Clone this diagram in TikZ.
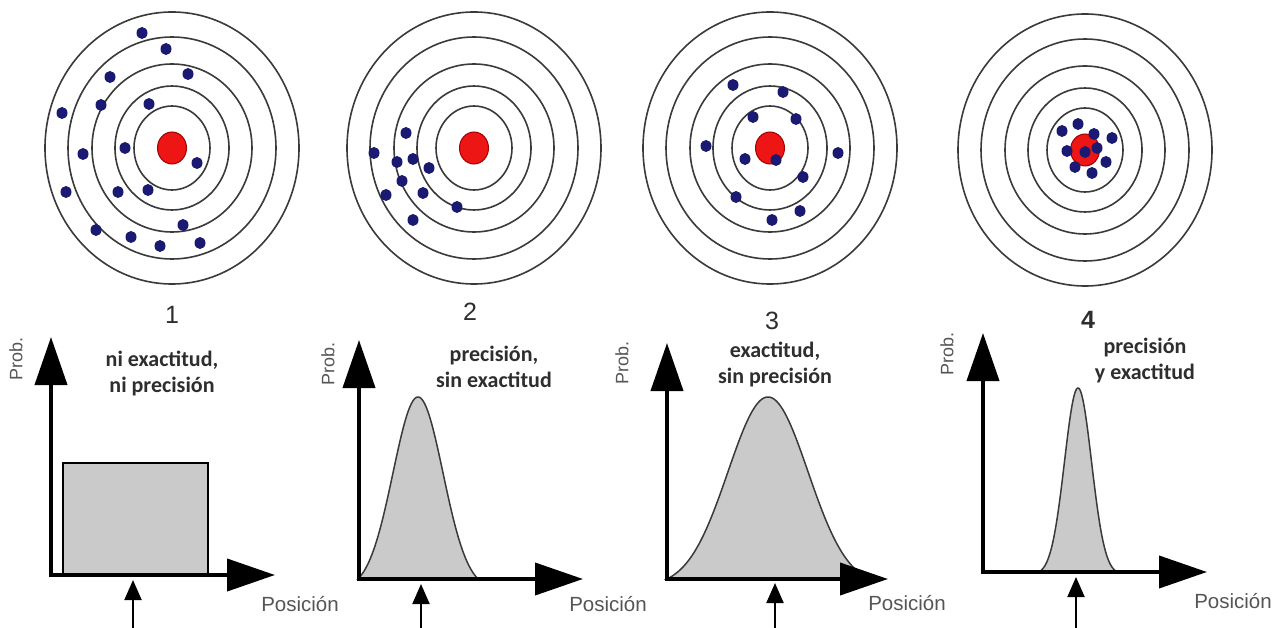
\documentclass[tikz,border=0pt]{standalone}
\usepackage{fontspec}
\setmainfont{Liberation Sans}
\newfontfamily\lab{Carlito}
\usetikzlibrary{arrows.meta}
\definecolor{ringc}{HTML}{3A3A3A}
\definecolor{dotc}{HTML}{1A1A72}
\definecolor{redc}{HTML}{EE1515}
\definecolor{rededge}{HTML}{A00000}
\definecolor{fillg}{HTML}{CACACA}
\definecolor{txt}{HTML}{2E2E2E}
\definecolor{postxt}{HTML}{555555}
\tikzset{
  ringline/.style={draw=ringc, line width=1.6pt},
  dotmark/.style={fill=dotc},
  bull/.style={fill=redc, draw=rededge, line width=1pt},
  axisarrow/.style={line width=4pt, line cap=rect, -{Triangle[length=48pt,width=32pt]}},
  markarrow/.style={line width=2pt, -{Triangle[length=20pt,width=17pt]}},
  curve/.style={fill=fillg, draw=ringc, line width=1.5pt},
  numlabel/.style={font=\fontsize{25}{28}\selectfont, text=txt},
  desc/.style={font=\lab\bfseries\fontsize{22}{26}\selectfont, text=txt, align=center},
  poslabel/.style={font=\fontsize{20.5}{24}\selectfont, text=postxt},
  problabel/.style={font=\fontsize{18}{21}\selectfont, text=postxt, rotate=90},
}
\newcommand\drawtarget[1]{%
  \foreach \rx/\ry in {127/136,104/111,80/84,57/62,38/42}
    \draw[ringline] (#1) ellipse [x radius=\rx, y radius=\ry];
  \draw[bull] (#1) ellipse [x radius=14.5, y radius=16];
}
\newcommand\bell[6]{%
  \draw[curve] plot[domain=#1:#2, samples=120]
    (\x, {#6 - #5*(exp(0-(\x-#3)*(\x-#3)/(2*#4*#4)) - exp(0-(#2-#3)*(#2-#3)/(2*#4*#4)))/(1-exp(0-(#2-#3)*(#2-#3)/(2*#4*#4)))}) -- cycle;
}
\begin{document}
\begin{tikzpicture}[x=1pt, y=-1pt]
\useasboundingbox[fill=white] (0,0) rectangle (1285,628);

% ---------- targets ----------
\coordinate (t1) at (172,148);
\coordinate (t2) at (474,148);
\coordinate (t3) at (770,148);
\coordinate (t4) at (1085,150);
\drawtarget{t1}
\drawtarget{t2}
\drawtarget{t3}
\drawtarget{t4}

\foreach \p in {(142,33),(166,49),(110,77),(188,74),(101,105),(149,104),(62,113),(125,148),(83,154),(197,163),(118,192),(148,190),(66,192),(183,225),(96,230),(131,237),(160,246),(200,243)}
  \fill[dotmark] \p circle [x radius=5.5, y radius=6];
\foreach \p in {(406,133),(374,153),(397,162),(413,159),(429,168),(402,181),(386,195),(423,193),(457,207),(413,220)}
  \fill[dotmark] \p circle [x radius=5.5, y radius=6];
\foreach \p in {(733,85),(783,92),(753,117),(796,119),(706,146),(838,153),(745,159),(776,160),(803,177),(736,197),(800,211),(772,220)}
  \fill[dotmark] \p circle [x radius=5.5, y radius=6];
\foreach \p in {(1078,124),(1062,131),(1094,134),(1112,138),(1067,151),(1097,148),(1085,152),(1106,162),(1075,167),(1092,173)}
  \fill[dotmark] \p circle [x radius=5.5, y radius=6];

% ---------- numbers ----------
\node[numlabel] (n1) at (172,315) {1};
\node[numlabel] (n2) at (470,312) {2};
\node[numlabel] (n3) at (772,321) {3};
\node[numlabel, font=\bfseries\fontsize{25}{28}\selectfont] (n4) at (1088,320) {4};

% ---------- descriptions ----------
\node[desc] (d1) at (162,373) {ni exactitud,\\ni precisión};
\node[desc] (d2) at (494,367) {precisión,\\sin exactitud};
\node[desc] (d3) at (775,364) {exactitud,\\sin precisión};
\node[desc] (d4) at (1145,361) {precisión\\y exactitud};

% ---------- distributions ----------
\draw[curve, draw=black] (63,463) rectangle (208,575);
\bell{358}{478}{418}{25}{182}{579}
\bell{667}{869}{768}{40}{182}{579}
\bell{1039}{1117}{1078}{13.5}{184}{572}

% ---------- axes ----------
\coordinate (o1) at (51,575);  \coordinate (y1) at (51,337);  \coordinate (x1) at (275,575);
\coordinate (o2) at (359,579); \coordinate (y2) at (359,340); \coordinate (x2) at (583,579);
\coordinate (o3) at (667,579); \coordinate (y3) at (667,343); \coordinate (x3) at (888,579);
\coordinate (o4) at (983,572); \coordinate (y4) at (983,333); \coordinate (x4) at (1207,572);
\foreach \i in {1,2,3,4}{
  \draw[axisarrow] (o\i) -- (y\i);
  \draw[axisarrow] (o\i) -- (x\i);
}

% ---------- marker arrows ----------
\coordinate (m1b) at (133,630);  \coordinate (m1) at (133,580);
\coordinate (m2b) at (421,630);  \coordinate (m2) at (421,584);
\coordinate (m3b) at (775,630);  \coordinate (m3) at (775,583);
\coordinate (m4b) at (1076,630); \coordinate (m4) at (1076,577);
\foreach \i in {1,2,3,4}
  \draw[markarrow] (m\i b) -- (m\i);

% ---------- axis labels ----------
\node[problabel] (p1) at (16,359) {Prob.};
\node[problabel] (p2) at (328,364) {Prob.};
\node[problabel] (p3) at (622,363) {Prob.};
\node[problabel] (p4) at (947,354) {Prob.};
\node[poslabel] (q1) at (300,604) {Posición};
\node[poslabel] (q2) at (608,604) {Posición};
\node[poslabel] (q3) at (907,603) {Posición};
\node[poslabel] (q4) at (1233,601) {Posición};
\end{tikzpicture}
\end{document}
